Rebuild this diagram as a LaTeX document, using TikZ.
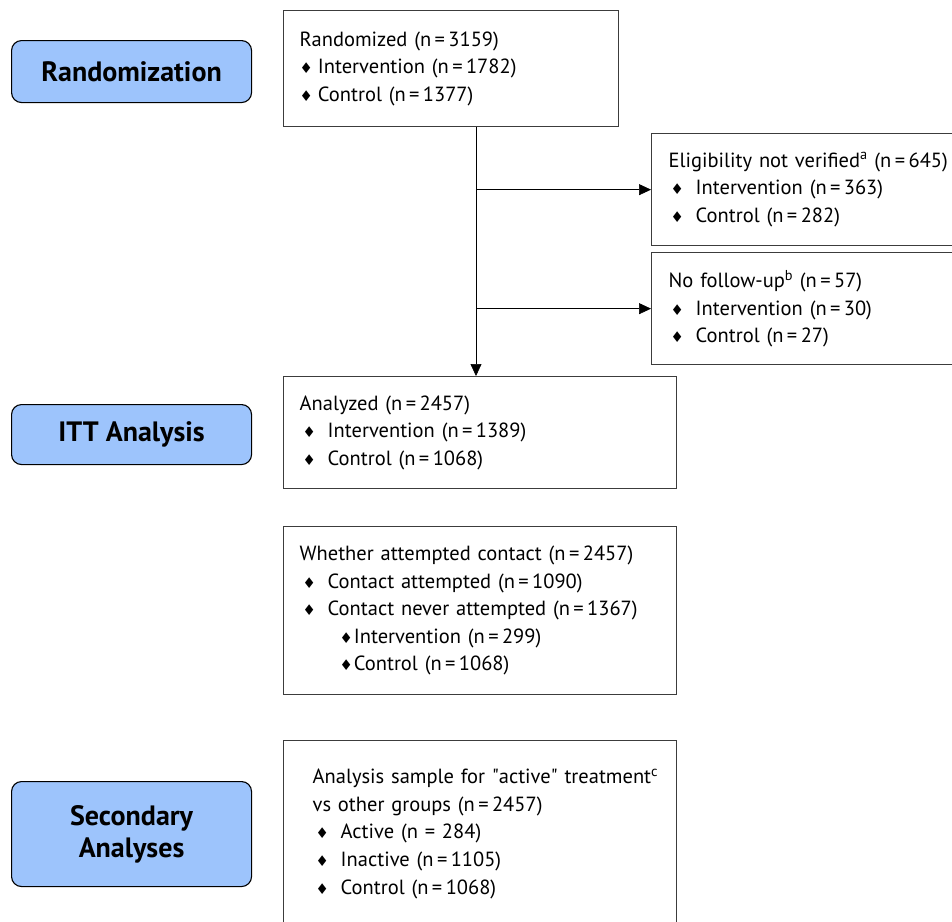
\documentclass[tikz,border=0pt]{standalone}
\usepackage{fontspec}
\setmainfont{PT Sans}
\newfontfamily\symfont{DejaVu Sans}
\usetikzlibrary{calc}
\usetikzlibrary{positioning}
\usetikzlibrary{arrows.meta}
\tikzset{every picture/.style={semithick, >={Triangle[length=12pt,width=11pt]}}}
\definecolor{stageBlue}{RGB}{157,196,252}
\definecolor{frameGray}{RGB}{60,60,60}
\newcommand{\dmd}{{\symfont\scalebox{0.72}{♦}}}
\newcommand{\itm}[1][0pt]{\hspace*{#1}\dmd\hspace{5pt}}
\newcommand{\subitm}{\hspace*{40pt}\dmd\hspace{1pt}}
\newcommand{\nn}[1]{(n\,=\,#1)}

\begin{document}
\begin{tikzpicture}[x=1pt, y=-1pt,
	stage/.style={draw=black, line width=1.1pt, fill=stageBlue, rounded corners=10pt,
		minimum width=240, anchor=north west, align=center,
		font=\fontsize{28}{32}\selectfont\bfseries},
	flowbox/.style={draw=frameGray, line width=1.3pt, anchor=north west, align=left,
		inner ysep=0pt, font=\fontsize{20.5}{27.6}\selectfont}]

	\clip (0,0) rectangle (952,921);
	\fill[white] (0,0) rectangle (952,921);

	\node[stage, minimum height=62] (randomization) at (11,40) {Randomization};
	\node[stage, minimum height=60] (itt) at (11,404) {ITT Analysis};
	\node[stage, minimum height=105] (secondary) at (11,781) {Secondary\\Analyses};

	\node[flowbox, minimum height=116, inner xsep=16, text width=303] (randomized) at (283,10)
		{Randomized \nn{3159}\\ \itm Intervention \nn{1782}\\ \itm Control \nn{1377}};

	\node[flowbox, minimum height=112, inner xsep=17, text width=300] (notverified) at (651,133)
		{\mbox{Eligibility not verified\textsuperscript{a} \nn{645}}\\ \itm[2pt] Intervention \nn{363}\\ \itm[2pt] Control \nn{282}};

	\node[flowbox, minimum height=112, inner xsep=17, text width=300] (nofollowup) at (651,252)
		{No follow-up\textsuperscript{b} \nn{57}\\ \itm[2pt] Intervention \nn{30}\\ \itm[2pt] Control \nn{27}};

	\node[flowbox, minimum height=112, inner xsep=16, text width=361] (analyzed) at (283,376)
		{Analyzed \nn{2457}\\ \itm[3pt] Intervention \nn{1389}\\ \itm[3pt] Control \nn{1068}};

	\node[flowbox, minimum height=168, inner xsep=16, text width=361] (contact) at (283,526)
		{Whether attempted contact \nn{2457}\\ \itm[3pt] Contact attempted \nn{1090}\\
		 \itm[3pt] Contact never attempted \nn{1367}\\ \subitm Intervention \nn{299}\\ \subitm Control \nn{1068}};

	\node[flowbox, minimum height=186, inner xsep=29, text width=335] (active) at (283,740)
		{\mbox{Analysis sample for \textquotedbl active\textquotedbl{} treatment\textsuperscript{c}}\\ vs other groups \nn{2457}\\
		 \itm[3pt] Active (n = 284)\\ \itm[3pt] Inactive \nn{1105}\\ \itm[3pt] Control \nn{1068}};

	\coordinate (trunk) at ($(randomized.south west)+(193,0)$);

	\draw[->] (trunk) -- (trunk |- analyzed.north);
	\draw[->] (trunk |- notverified.west) -- (notverified.west);
	\draw[->] (trunk |- nofollowup.west) -- (nofollowup.west);

\end{tikzpicture}
\end{document}
